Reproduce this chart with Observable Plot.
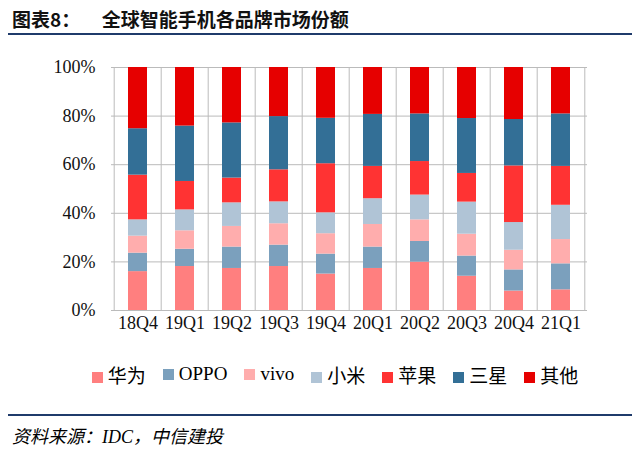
<!DOCTYPE html>
<html><head><meta charset="utf-8">
<script src="https://cdn.jsdelivr.net/npm/d3@7"></script>
<script src="https://cdn.jsdelivr.net/npm/@observablehq/plot@0.6"></script>
<style>
body{margin:0;width:640px;height:456px;background:#fff;font-family:"Liberation Serif","Noto Sans CJK SC",serif;}
#title{height:33px;border-bottom:2px solid #1f3b6b;margin:0 8px 0 8px;font-family:"Noto Sans CJK SC";font-weight:bold;font-size:19px;line-height:38px;color:#111;padding-left:4px}
#legend{display:flex;justify-content:center;gap:17px;font-size:19px;margin-top:17px;height:30px;align-items:center;padding-left:30px}
#legend span.sw{display:inline-block;width:11px;height:11px;margin-right:5px}
#src{border-top:2px solid #1f3b6b;margin:25px 8px 0 8px;font-style:italic;font-size:18px;padding:6px 0 0 4px;font-family:"Liberation Serif","Noto Sans CJK SC"}
</style></head><body>
<div id="title">图表8：&nbsp;&nbsp;&nbsp;&nbsp;&nbsp;全球智能手机各品牌市场份额</div>
<div id="chart"></div>
<div id="legend"></div>
<div id="src">资料来源：IDC，中信建投</div>
<script>
const quarters=["18Q4","19Q1","19Q2","19Q3","19Q4","20Q1","20Q2","20Q3","20Q4","21Q1"];
const brands=["华为","OPPO","vivo","小米","苹果","三星","其他"];
const colors=["#ff7f7f","#7ba0bd","#ffadad","#b0c4d6","#ff3333","#336f96","#e60000"];
const huawei=[16.0,18.1,17.3,18.1,15.0,17.3,19.9,14.1,8.0,8.5];
const oppo=[7.6,7.1,8.8,8.8,8.2,8.8,8.5,8.3,8.7,10.7];
const vivo=[7.0,7.6,8.5,8.8,8.4,9.3,8.9,9.0,8.1,10.0];
const xiaomi=[6.7,8.6,9.7,9.0,8.6,10.6,10.2,13.2,11.4,14.1];
const apple=[18.4,11.7,10.2,13.2,20.2,13.3,13.8,11.8,23.3,16.0];
const samsung=[19.1,22.8,22.7,21.9,18.7,21.4,19.6,22.6,19.1,21.6];
const others=[25.2,24.1,22.8,20.2,20.9,19.3,19.1,21.0,21.4,19.1];
const series=[huawei,oppo,vivo,xiaomi,apple,samsung,others];
const data=[];
brands.forEach((b,i)=>quarters.forEach((q,j)=>data.push({q,brand:b,v:series[i][j]/100})));
const plot=Plot.plot({
 width:640,height:307,marginTop:32,marginLeft:111,marginRight:53,marginBottom:32,
 style:{fontFamily:"Liberation Serif",fontSize:"18px",color:"#111"},
 x:{domain:quarters,paddingInner:0.6,paddingOuter:0.3,label:null,tickSize:0,tickPadding:6},
 y:{domain:[0,1],ticks:[0,.2,.4,.6,.8,1],tickFormat:d=>Math.round(d*100)+"%",label:null,tickSize:0,tickPadding:16},
 color:{domain:brands,range:colors},
 marks:[
  Plot.gridY([0,.2,.4,.6,.8,1],{stroke:"#bbb",strokeOpacity:1}),
  Plot.barY(data,{x:"q",y:"v",fill:"brand",order:brands}),
  Plot.ruleY([0],{stroke:"#bbb"}),
  Plot.tickX(quarters,{x:d=>d,dx:-23.8,y1:0,y2:-0.02,stroke:"#bbb"}),
  Plot.tickX([quarters[9]],{x:d=>d,dx:23.8,y1:0,y2:-0.02,stroke:"#bbb"})
 ]
});
document.getElementById("chart").appendChild(plot);
const lg=document.getElementById("legend");
brands.forEach((b,i)=>{const s=document.createElement("span");s.innerHTML=`<span class="sw" style="background:${colors[i]}"></span>${b}`;lg.appendChild(s);});
</script></body></html>
